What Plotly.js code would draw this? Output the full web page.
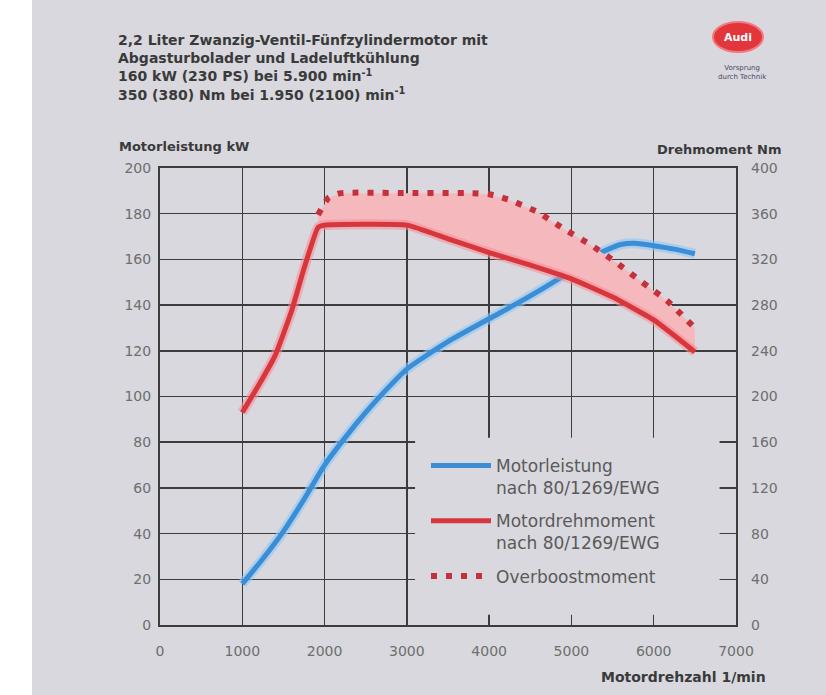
<!DOCTYPE html>
<html>
<head>
<meta charset="utf-8">
<script src="https://cdn.plot.ly/plotly-3.0.1.min.js"></script>
<style>html,body{margin:0;padding:0;background:#ffffff;}#chart{width:826px;height:695px;}</style>
</head>
<body>
<div id="chart"></div>
<script>
// ---- data ----
const powerRpm = [1000, 1250, 1500, 1750, 2000, 2250, 2500, 2750, 3000, 3500, 4000, 4500, 5000, 5300, 5600, 5800, 6000, 6250, 6500];
const powerKw  = [18, 29, 41, 55, 70, 82, 93, 103, 112, 124, 134, 144, 155, 162, 166.5, 167, 166, 164.5, 162.5];

const torqueRpm = [1000, 1200, 1400, 1600, 1750, 1920, 2000, 3000, 3500, 4000, 4500, 5000, 5500, 6000, 6500];
const torqueNm  = [186, 210, 236, 275, 312, 348, 350, 350, 338, 326, 315, 303, 287, 267, 239];

const overboostRpm = [1920, 2050, 2200, 3000, 3800, 4000, 4250, 4600, 4900, 5250, 5550, 5860, 6160, 6500];
const overboostNm  = [359, 374, 378, 378, 378, 377, 372, 361, 347, 332, 317, 300, 284, 260];

const xTicks  = [0, 1000, 2000, 3000, 4000, 5000, 6000, 7000];
const yTicksKw = [0, 20, 40, 60, 80, 100, 120, 140, 160, 180, 200];
const yTicksNm = [0, 40, 80, 120, 160, 200, 240, 280, 320, 360, 400];

const legendNames = ['Motorleistung<br>nach 80/1269/EWG', 'Motordrehmoment<br>nach 80/1269/EWG', 'Overboostmoment'];

// base of the overboost band: the torque curve from where the overboost starts
const startIdx = torqueRpm.indexOf(overboostRpm[0]);
const baseRpm = torqueRpm.slice(startIdx);
const baseNm  = torqueNm.slice(startIdx);

const BLUE = '#3b8ed6', RED = '#d8363d', DOT = '#c6303a';

const traces = [
  {x: baseRpm, y: baseNm, yaxis: 'y2', mode: 'lines', line: {width: 0, color: 'rgba(0,0,0,0)'}, showlegend: false, hoverinfo: 'skip'},
  {x: overboostRpm, y: overboostNm, yaxis: 'y2', mode: 'lines', line: {width: 0, color: 'rgba(0,0,0,0)'}, fill: 'tonexty', fillcolor: '#f5b9bd', showlegend: false, hoverinfo: 'skip'},
  // halos
  {x: torqueRpm, y: torqueNm, yaxis: 'y2', mode: 'lines', line: {width: 10, color: 'rgba(248,140,150,0.55)', shape: 'spline', smoothing: 0.4}, showlegend: false, hoverinfo: 'skip'},
  {x: powerRpm, y: powerKw, mode: 'lines', line: {width: 10, color: 'rgba(140,200,245,0.6)', shape: 'spline', smoothing: 0.6}, showlegend: false, hoverinfo: 'skip'},
  // main curves
  {x: powerRpm, y: powerKw, mode: 'lines', name: legendNames[0], legendgroup: 'p', line: {width: 5, color: BLUE, shape: 'spline', smoothing: 0.6}},
  {x: torqueRpm, y: torqueNm, yaxis: 'y2', mode: 'lines', name: legendNames[1], legendgroup: 't', line: {width: 5, color: RED, shape: 'spline', smoothing: 0.4}},
  {x: overboostRpm, y: overboostNm, yaxis: 'y2', mode: 'lines', name: legendNames[2], legendgroup: 'o', line: {width: 6, color: DOT, dash: '6px,9px', shape: 'spline', smoothing: 0.5}}
];

// pixel helpers for decoration in paper coordinates
const L = 160, R = 736, T = 168, B = 625;
const px = v => (v - L) / (R - L);
const py = v => (B - v) / (B - T);

const GRID = '#3c3c3c';
const tickFont = {family: 'DejaVu Sans', size: 14, color: '#6e6e6e'};

const layout = {
  width: 826, height: 695,
  margin: {l: L, r: 826 - R, t: T, b: 695 - B, pad: 0},
  paper_bgcolor: '#ffffff',
  plot_bgcolor: 'rgba(0,0,0,0)',
  showlegend: true,
  title: {
    text: '2,2 Liter Zwanzig-Ventil-Fünfzylindermotor mit<br>Abgasturbolader und Ladeluftkühlung<br>160 kW (230 PS) bei 5.900 min<sup>-1</sup><br>350 (380) Nm bei 1.950 (2100) min<sup>-1</sup>',
    x: 118 / 826, xanchor: 'left', xref: 'container',
    y: 1 - 45 / 695, yanchor: 'top', yref: 'container',
    font: {family: 'DejaVu Sans', size: 14, color: '#3a3a3a', weight: 'bold'}
  },
  xaxis: {
    range: [0, 7000], tickvals: xTicks, ticktext: xTicks.map(String),
    showgrid: true, gridcolor: GRID, gridwidth: 1.5,
    zeroline: false, showline: true, linecolor: GRID, linewidth: 2, mirror: true,
    ticks: '', tickfont: tickFont, ticklabelstandoff: 12, fixedrange: true
  },
  yaxis: {
    range: [0, 200], tickvals: yTicksKw, ticktext: yTicksKw.map(String),
    showgrid: true, gridcolor: GRID, gridwidth: 1.5,
    zeroline: false, showline: true, linecolor: GRID, linewidth: 2, mirror: true,
    ticks: '', tickfont: tickFont, ticklabelstandoff: 4, fixedrange: true
  },
  yaxis2: {
    range: [0, 400], tickvals: yTicksNm, ticktext: yTicksNm.map(String),
    overlaying: 'y', side: 'right', showgrid: false, zeroline: false, showline: false,
    ticks: '', tickfont: tickFont, ticklabelstandoff: 14, fixedrange: true
  },
  legend: {
    x: px(426), xanchor: 'left', y: py(448), yanchor: 'top',
    traceorder: 'grouped', valign: 'top',
    bgcolor: 'rgba(0,0,0,0)', borderwidth: 0,
    font: {family: 'DejaVu Sans', size: 17, color: '#5a5a5a'},
    itemwidth: 60, tracegroupgap: 8
  },
  shapes: [
    // gray scanned page
    {type: 'rect', xref: 'paper', yref: 'paper', x0: px(32), x1: px(826), y0: py(695), y1: py(0), fillcolor: '#d8d8de', line: {width: 0}, layer: 'below'},
    // legend area hides the grid
    {type: 'rect', xref: 'x', yref: 'y', x0: 3100, x1: 6800, y0: 4.5, y1: 82, fillcolor: '#d8d8de', line: {width: 0}, layer: 'between'},
    // Audi oval
    {type: 'circle', xref: 'paper', yref: 'paper', x0: px(713), x1: px(763), y0: py(52), y1: py(22), fillcolor: '#e2363c', line: {width: 2, color: '#f07a7e'}, layer: 'above'}
  ],
  annotations: [
    {text: '<b>Motorleistung kW</b>', xref: 'paper', yref: 'paper', x: px(117), y: py(146), xanchor: 'left', yanchor: 'middle', showarrow: false, font: {family: 'DejaVu Sans', size: 13, color: '#3a3a3a'}},
    {text: '<b>Drehmoment Nm</b>', xref: 'paper', yref: 'paper', x: px(784), y: py(150), xanchor: 'right', yanchor: 'middle', showarrow: false, font: {family: 'DejaVu Sans', size: 13, color: '#3a3a3a'}},
    {text: '<b>Motordrehzahl 1/min</b>', xref: 'paper', yref: 'paper', x: px(768), y: py(677), xanchor: 'right', yanchor: 'middle', showarrow: false, font: {family: 'DejaVu Sans', size: 14, color: '#3a3a3a'}},
    {text: '<b>Audi</b>', xref: 'paper', yref: 'paper', x: px(738), y: py(37), xanchor: 'center', yanchor: 'middle', showarrow: false, font: {family: 'DejaVu Sans', size: 11, color: '#ffffff'}},
    {text: 'Vorsprung<br>durch Technik', xref: 'paper', yref: 'paper', x: px(742), y: py(62), xanchor: 'center', yanchor: 'top', showarrow: false, font: {family: 'DejaVu Sans', size: 7, color: '#4a4a66'}}
  ]
};

Plotly.newPlot('chart', traces, layout, {displayModeBar: false, staticPlot: true});
</script>
</body>
</html>
